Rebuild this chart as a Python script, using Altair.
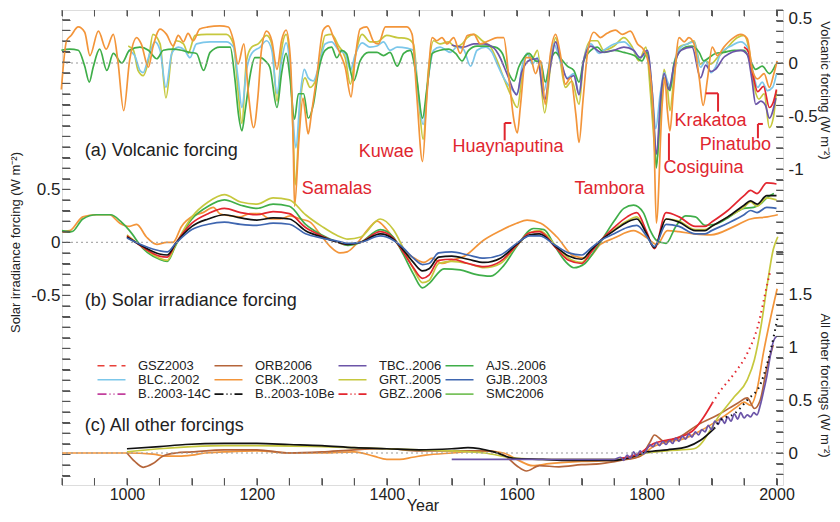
import altair as alt
import pandas as pd

FONT = "Liberation Sans"

# ---------------- legend ----------------
LEGEND_ORDER = ["GSZ2003", "ORB2006", "TBC..2006", "AJS..2006",
                "BLC..2002", "CBK..2003", "GRT..2005", "GJB..2003",
                "B..2003-14C", "B..2003-10Be", "GBZ..2006", "SMC2006"]
LEGEND_COLORS = ["#e8413a", "#b5653a", "#6c55a8", "#3fae49",
                 "#7cc7ea", "#f3953a", "#c6c83e", "#3f66b0",
                 "#c2409d", "#111111", "#e3262f", "#79c25d"]
LEGEND_DASHES = [[7, 5], [1, 0], [1, 0], [1, 0],
                 [1, 0], [1, 0], [1, 0], [1, 0],
                 [9, 3, 1, 3, 1, 3], [9, 3, 1, 3, 1, 3], [9, 3, 1, 3, 1, 3], [1, 0]]

# ---------------- (a) volcanic forcing ----------------
V_CBK_YR = [899, 907, 914, 925, 935, 943, 956, 968, 979, 986, 995, 1004, 1015, 1022, 1033, 1040, 1051, 1061, 1071, 1079,
            1087, 1094, 1102, 1112, 1125, 1143, 1156, 1164, 1171, 1180, 1187, 1195, 1202, 1207, 1215, 1223, 1231, 1238,
            1245, 1251, 1256, 1258, 1265, 1271, 1274, 1279, 1284, 1292, 1302, 1310, 1318, 1328, 1336, 1345, 1351, 1359,
            1369, 1380, 1387, 1398, 1410, 1431, 1439, 1446, 1455, 1462, 1470, 1477, 1485, 1493, 1503, 1513, 1524, 1534,
            1544, 1557, 1570, 1580, 1588, 1596, 1601, 1606, 1614, 1621, 1629, 1637, 1644, 1652, 1660, 1667, 1675, 1683,
            1691, 1696, 1702, 1709, 1719, 1729, 1739, 1752, 1763, 1775, 1786, 1796, 1804, 1811, 1815, 1824, 1828, 1832,
            1836, 1841, 1850, 1858, 1865, 1873, 1881, 1887, 1894, 1901, 1909, 1919, 1932, 1945, 1955, 1963, 1971, 1981,
            1989, 1996, 2001]
V_CBK = [-0.25, 0.21, 0.26, 0.34, 0.29, 0.07, 0.30, 0.13, 0.27, 0.02, -0.45, 0.02, 0.24, 0.18, -0.04, 0.15, 0.32, 0.27,
         0.16, 0.26, 0.20, 0.28, 0.21, 0.32, 0.34, 0.35, 0.34, 0.21, -0.01, 0.18, -0.29, -0.61, -0.29, 0.12, 0.30, 0.21,
         -0.06, 0.21, 0.31, 0.09, -0.77, -1.35, -0.70, -0.33, -0.45, -0.67, -0.48, -0.14, 0.31, 0.35, 0.24, 0.09, -0.04,
         -0.32, 0.02, 0.32, 0.34, 0.20, 0.18, 0.34, 0.34, 0.34, 0.27, -0.29, -0.93, -0.29, 0.24, 0.21, 0.24, 0.18, 0.24,
         0.09, 0.26, 0.27, 0.18, 0.21, 0.24, 0.24, -0.14, -0.55, -0.66, -0.39, 0.05, 0.05, -0.10, 0.02, -0.39, 0.09, 0.27,
         0.09, -0.20, -0.14, -0.48, -0.75, -0.36, 0.09, 0.29, 0.24, 0.28, 0.31, 0.27, 0.30, 0.18, 0.12, -0.04, -0.61,
         -1.51, -0.39, -0.14, -0.45, -0.64, -0.29, 0.24, 0.20, 0.24, 0.18, -0.14, -0.40, -0.14, 0.15, 0.07, 0.15, 0.23,
         0.27, 0.23, -0.07, -0.15, -0.10, -0.23, -0.10, 0.02]

V_AJS_YR = [899, 912, 925, 935, 942, 948, 958, 969, 979, 992, 1004, 1020, 1033, 1046, 1056, 1071, 1084, 1097, 1107, 1118,
            1128, 1143, 1159, 1166, 1172, 1177, 1182, 1189, 1197, 1205, 1213, 1220, 1231, 1238, 1245, 1251, 1258, 1264,
            1272, 1279, 1287, 1295, 1305, 1315, 1323, 1331, 1338, 1349, 1359, 1372, 1385, 1395, 1405, 1416, 1426, 1436,
            1446, 1455, 1462, 1470, 1482, 1495, 1506, 1516, 1526, 1539, 1554, 1567, 1578, 1588, 1596, 1603, 1611, 1619,
            1629, 1637, 1644, 1652, 1660, 1667, 1678, 1688, 1696, 1703, 1714, 1724, 1734, 1750, 1765, 1781, 1793, 1801,
            1806, 1811, 1815, 1821, 1826, 1831, 1836, 1842, 1850, 1860, 1870, 1881, 1888, 1896, 1906, 1919, 1935, 1950,
            1960, 1968, 1978, 1989, 1999]
V_AJS = [0.12, 0.13, 0.12, -0.03, -0.18, -0.04, 0.13, -0.07, 0.09, 0.0, 0.12, 0.15, 0.12, 0.04, 0.12, 0.13, 0.12, 0.10,
         0.09, -0.07, 0.10, 0.15, 0.15, -0.14, -0.50, -0.64, -0.45, -0.14, 0.05, 0.05, 0.02, -0.04, -0.42, -0.10, 0.09,
         -0.14, -0.53, -0.29, -0.29, -0.52, -0.39, -0.07, 0.12, 0.15, 0.05, 0.12, 0.09, -0.17, 0.02, 0.10, 0.10, 0.07,
         0.10, -0.03, 0.09, 0.12, -0.14, -0.52, -0.23, 0.09, 0.12, 0.13, 0.09, 0.02, 0.12, 0.16, 0.16, 0.15, 0.09, -0.10,
         -0.17, -0.04, 0.05, 0.09, 0.02, 0.01, -0.18, 0.02, 0.10, 0.05, -0.03, -0.07, -0.18, 0.02, 0.12, 0.15, 0.10, 0.12,
         0.10, 0.07, 0.02, 0.10, -0.14, -0.55, -0.99, -0.45, -0.14, -0.20, -0.26, -0.01, 0.10, 0.15, 0.16, 0.10, 0.02,
         0.05, 0.09, 0.10, 0.12, 0.12, 0.02, -0.06, -0.03, -0.10, -0.01]

V_BLC_YR = [1002, 1012, 1020, 1025, 1033, 1043, 1051, 1060, 1069, 1079, 1089, 1097, 1107, 1128, 1153, 1164, 1171, 1177,
            1184, 1192, 1205, 1215, 1223, 1231, 1238, 1245, 1251, 1256, 1260, 1267, 1273, 1279, 1287, 1295, 1305, 1315,
            1326, 1336, 1344, 1351, 1362, 1374, 1385, 1395, 1405, 1416, 1431, 1441, 1449, 1456, 1464, 1472, 1482, 1498,
            1508, 1518, 1529, 1539, 1552, 1562, 1570, 1580, 1590, 1601, 1608, 1616, 1624, 1632, 1642, 1650, 1657, 1667,
            1678, 1688, 1696, 1703, 1714, 1727, 1734, 1750, 1765, 1778, 1791, 1801, 1809, 1814, 1821, 1827, 1832, 1837,
            1843, 1853, 1863, 1873, 1883, 1891, 1899, 1906, 1914, 1930, 1945, 1955, 1963, 1971, 1978, 1986, 1994, 2000]
V_BLC = [0.12, 0.07, -0.07, -0.09, 0.05, 0.20, 0.12, -0.23, 0.09, 0.15, 0.12, 0.05, 0.18, 0.20, 0.20, 0.15, -0.14, -0.42,
         -0.07, 0.09, 0.15, 0.21, 0.12, -0.29, 0.02, 0.19, -0.04, -0.55, -0.80, -0.29, -0.06, -0.14, -0.17, -0.04, 0.18,
         0.20, 0.12, 0.09, -0.07, 0.07, 0.19, 0.15, 0.16, 0.20, 0.12, 0.15, 0.14, 0.12, -0.33, -0.58, -0.14, 0.12, 0.15,
         0.10, 0.15, 0.13, -0.03, 0.12, 0.15, 0.10, -0.01, -0.14, -0.23, -0.29, -0.04, 0.09, -0.01, 0.05, -0.26, -0.01,
         0.18, 0.02, -0.14, -0.10, -0.29, 0.02, 0.18, 0.09, 0.12, 0.18, 0.20, 0.13, 0.05, 0.12, -0.29, -0.62, -0.29,
         -0.09, -0.17, -0.23, 0.02, 0.15, 0.18, 0.20, -0.04, 0.02, -0.09, -0.04, 0.09, 0.16, 0.20, 0.15, -0.06, -0.23,
         -0.18, -0.26, -0.23, -0.10]

V_GRT_YR = [1002, 1010, 1017, 1025, 1033, 1040, 1051, 1060, 1069, 1076, 1087, 1094, 1105, 1123, 1153, 1164, 1171, 1177,
            1184, 1192, 1202, 1215, 1223, 1231, 1238, 1245, 1251, 1256, 1259, 1267, 1274, 1282, 1290, 1297, 1305, 1315,
            1326, 1336, 1344, 1351, 1362, 1374, 1385, 1400, 1416, 1431, 1441, 1449, 1456, 1464, 1472, 1482, 1495, 1506,
            1516, 1524, 1534, 1547, 1560, 1570, 1580, 1590, 1601, 1608, 1616, 1624, 1632, 1643, 1652, 1660, 1667, 1675,
            1685, 1696, 1703, 1714, 1724, 1734, 1750, 1765, 1778, 1788, 1799, 1806, 1811, 1815, 1822, 1827, 1832, 1836,
            1842, 1850, 1863, 1873, 1883, 1891, 1899, 1909, 1922, 1940, 1950, 1958, 1966, 1973, 1981, 1989, 1995, 2000]
V_GRT = [0.16, 0.12, -0.07, -0.12, 0.02, 0.27, 0.18, -0.33, 0.09, 0.21, 0.18, 0.09, 0.26, 0.27, 0.27, 0.18, -0.26, -0.57,
         0.02, 0.15, 0.18, 0.26, 0.18, -0.36, 0.12, 0.27, -0.01, -0.70, -1.15, -0.36, -0.14, -0.23, -0.17, 0.02, 0.26,
         0.27, 0.16, 0.05, -0.20, 0.05, 0.27, 0.20, 0.20, 0.26, 0.24, 0.23, 0.18, -0.33, -0.72, -0.07, 0.21, 0.18, 0.20,
         0.15, 0.18, 0.24, 0.27, 0.21, 0.15, 0.02, -0.14, -0.29, -0.42, -0.14, 0.09, 0.04, 0.12, -0.47, -0.04, 0.24, 0.02,
         -0.23, -0.17, -0.39, 0.02, 0.21, 0.21, 0.12, 0.16, 0.24, 0.15, 0.02, 0.15, -0.29, -0.70, -0.96, -0.39, -0.06,
         -0.23, -0.45, -0.14, 0.15, 0.18, 0.21, -0.01, 0.02, -0.01, 0.05, 0.13, 0.24, 0.26, 0.12, -0.23, -0.34, -0.29,
         -0.61, -0.52, -0.26]

V_TBC_YR = [1500, 1518, 1534, 1549, 1565, 1572, 1585, 1600, 1608, 1621, 1632, 1643, 1652, 1660, 1667, 1678, 1688, 1696,
            1703, 1714, 1730, 1750, 1765, 1780, 1790, 1801, 1809, 1815, 1822, 1827, 1834, 1842, 1853, 1870, 1883, 1891,
            1899, 1906, 1920, 1945, 1955, 1962, 1968, 1976, 1983, 1989, 1999]
V_TBC = [0.17, 0.15, 0.18, 0.18, 0.14, 0.08, -0.10, -0.30, -0.08, 0.03, 0.04, -0.35, -0.03, 0.20, 0.05, -0.15, -0.12,
         -0.30, 0.02, 0.16, 0.10, 0.12, 0.15, 0.12, 0.05, 0.12, -0.30, -0.86, -0.30, -0.10, -0.25, -0.03, 0.12, 0.15,
         -0.14, -0.02, -0.08, -0.06, 0.06, 0.12, 0.08, -0.15, -0.39, -0.36, -0.40, -0.52, -0.33]

V_GBZ_YR = [1950, 1957, 1964, 1971, 1980, 1989, 1995, 2000]
V_GBZ = [0.15, 0.10, -0.12, -0.27, -0.22, -0.42, -0.37, -0.25]

# ---------------- (b) solar irradiance forcing ----------------
S_YR = [1000, 1025, 1050, 1062, 1075, 1100, 1125, 1150, 1175, 1200, 1225, 1250, 1275, 1300, 1325, 1340, 1360, 1390,
        1410, 1425, 1441, 1455, 1465, 1480, 1500, 1525, 1550, 1575, 1600, 1620, 1635, 1660, 1680, 1700, 1715, 1730,
        1750, 1770, 1785, 1800, 1812, 1830, 1850, 1875, 1890, 1900, 1925, 1950, 1960, 1970, 1985, 2000]
S_B10BE = [0.05, -0.04, -0.11, -0.12, -0.01, 0.15, 0.22, 0.26, 0.23, 0.21, 0.23, 0.22, 0.11, 0.05, 0.0, -0.02, 0.0,
           0.08, 0.03, -0.07, -0.19, -0.27, -0.25, -0.14, -0.13, -0.16, -0.19, -0.15, -0.02, 0.07, 0.08, -0.04, -0.13,
           -0.16, -0.07, 0.02, 0.11, 0.19, 0.22, 0.08, -0.05, 0.22, 0.19, 0.11, 0.11, 0.15, 0.24, 0.35, 0.39, 0.36, 0.44,
           0.44]
S_GJB = [0.04, -0.03, -0.08, -0.09, -0.01, 0.12, 0.17, 0.19, 0.17, 0.16, 0.18, 0.17, 0.08, 0.04, 0.01, -0.01, 0.0, 0.06,
         0.02, -0.05, -0.15, -0.21, -0.20, -0.10, -0.09, -0.12, -0.15, -0.12, -0.01, 0.06, 0.06, -0.03, -0.10, -0.12,
         -0.05, 0.02, 0.08, 0.14, 0.16, 0.06, -0.04, 0.17, 0.15, 0.08, 0.08, 0.11, 0.18, 0.26, 0.30, 0.28, 0.33, 0.32]
S_GBZ = [0.06, -0.05, -0.13, -0.14, -0.01, 0.18, 0.27, 0.32, 0.28, 0.26, 0.29, 0.27, 0.14, 0.06, 0.0, -0.02, 0.0, 0.10,
         0.04, -0.09, -0.24, -0.34, -0.31, -0.17, -0.16, -0.20, -0.23, -0.18, -0.03, 0.09, 0.10, -0.05, -0.17, -0.20,
         -0.09, 0.02, 0.14, 0.24, 0.28, 0.10, -0.06, 0.28, 0.24, 0.15, 0.15, 0.19, 0.30, 0.44, 0.49, 0.46, 0.56, 0.55]
S_GRT = [0.07, -0.05, -0.15, -0.17, -0.02, 0.24, 0.38, 0.45, 0.38, 0.36, 0.42, 0.40, 0.26, 0.15, 0.06, 0.03, 0.05, 0.22,
         0.12, -0.05, -0.25, -0.38, -0.36, -0.20, -0.18, -0.20, -0.24, -0.20, -0.03, 0.09, 0.11, -0.03, -0.15, -0.19,
         -0.08, 0.02, 0.12, 0.20, 0.24, 0.08, -0.05, 0.22, 0.20, 0.12, 0.12, 0.15, 0.24, 0.33, 0.38, 0.34, 0.42, 0.40]

S_AJS_YR = [900, 915, 932, 953, 975, 990, 1004, 1025, 1050, 1062, 1075, 1100, 1125, 1150, 1175, 1200, 1225, 1250, 1275,
            1300, 1325, 1340, 1360, 1390, 1410, 1425, 1441, 1455, 1465, 1488, 1513, 1535, 1560, 1580, 1600, 1626, 1642,
            1660, 1675, 1688, 1705, 1720, 1735, 1750, 1765, 1780, 1795, 1805, 1815, 1830, 1845, 1860, 1875, 1890, 1905,
            1925, 1950, 1965, 1975, 1985, 1996]
S_AJS = [0.11, 0.10, 0.22, 0.26, 0.26, 0.20, 0.11, -0.06, -0.16, -0.18, -0.03, 0.22, 0.34, 0.40, 0.35, 0.32, 0.36, 0.34,
         0.17, 0.07, 0.0, -0.03, 0.0, 0.12, 0.05, -0.11, -0.30, -0.43, -0.39, -0.25, -0.26, -0.30, -0.32, -0.22, -0.04,
         0.13, 0.12, -0.05, -0.18, -0.24, -0.20, -0.08, 0.06, 0.20, 0.32, 0.35, 0.28, 0.12, 0.02, -0.01, 0.15, 0.25, 0.24,
         0.16, 0.17, 0.23, 0.32, 0.33, 0.36, 0.42, 0.46]

S_CBK_YR = [900, 912, 932, 953, 973, 989, 1004, 1015, 1030, 1046, 1061, 1071, 1084, 1102, 1117, 1133, 1143, 1159, 1174,
            1189, 1205, 1220, 1236, 1251, 1267, 1282, 1297, 1313, 1328, 1339, 1354, 1375, 1385, 1400, 1421, 1440, 1457,
            1470, 1485, 1500, 1520, 1549, 1575, 1600, 1616, 1637, 1662, 1688, 1709, 1729, 1750, 1780, 1801, 1816, 1832,
            1850, 1873, 1899, 1935, 1960, 1986, 2002]
S_CBK = [0.10, 0.11, 0.24, 0.26, 0.26, 0.18, 0.15, 0.17, 0.05, -0.02, 0.0, 0.0, 0.15, 0.25, 0.28, 0.33, 0.27, 0.25, 0.24,
         0.27, 0.27, 0.22, 0.22, 0.25, 0.22, 0.19, 0.08, -0.04, -0.10, -0.09, -0.01, 0.15, 0.20, 0.12, -0.05, -0.14,
         -0.19, -0.15, -0.20, -0.17, -0.13, 0.02, 0.11, 0.18, 0.21, 0.18, 0.05, -0.13, -0.15, -0.02, 0.04, 0.11, 0.04,
         -0.02, 0.11, 0.10, 0.08, 0.07, 0.15, 0.22, 0.24, 0.26]

# ---------------- (c) all other forcings ----------------
O_CBK_YR = [900, 1000, 1040, 1060, 1080, 1100, 1120, 1150, 1200, 1250, 1300, 1350, 1380, 1400, 1420, 1440, 1460, 1500,
            1550, 1580, 1600, 1625, 1650, 1700, 1750, 1790, 1810, 1830, 1860, 1880, 1900, 1920, 1940, 1950, 1960, 1970,
            1980, 1990, 2001]
O_CBK = [0.0, 0.0, -0.01, -0.03, -0.03, -0.02, 0.0, 0.01, 0.02, 0.0, 0.0, 0.01, -0.03, -0.06, -0.06, -0.04, -0.02, 0.0,
         0.02, 0.0, -0.06, -0.12, -0.10, -0.08, -0.07, -0.03, 0.06, 0.10, 0.14, 0.20, 0.27, 0.35, 0.44, 0.48, 0.45, 0.60,
         0.95, 1.25, 1.55]

O_ORB_YR = [1000, 1012, 1025, 1040, 1055, 1075, 1100, 1150, 1200, 1250, 1300, 1350, 1400, 1450, 1500, 1550, 1580, 1600,
            1615, 1635, 1665, 1700, 1730, 1760, 1790, 1805, 1812, 1827, 1850, 1880, 1910, 1940, 1955, 1966, 1975, 1985,
            1995]
O_ORB = [0.0, -0.08, -0.135, -0.10, -0.03, 0.0, 0.01, 0.03, 0.03, 0.0, 0.01, 0.03, 0.04, 0.02, 0.02, 0.02, -0.02, -0.12,
         -0.17, -0.12, -0.13, -0.11, -0.10, -0.07, -0.03, 0.10, 0.17, 0.11, 0.15, 0.27, 0.36, 0.47, 0.52, 0.42, 0.50,
         0.80, 1.02]

O_GRT_YR = [1000, 1050, 1100, 1150, 1200, 1300, 1400, 1450, 1500, 1550, 1600, 1650, 1700, 1750, 1780, 1800, 1830, 1873,
            1914, 1935, 1955, 1966, 1976, 1986, 1995, 2002]
O_GRT = [0.01, 0.04, 0.06, 0.07, 0.07, 0.06, 0.04, 0.03, 0.02, 0.0, -0.05, -0.06, -0.06, -0.06, -0.03, 0.0, 0.02, 0.04,
         0.37, 0.53, 0.69, 0.88, 1.19, 1.60, 1.92, 2.04]

O_B10BE_YR = [1000, 1050, 1090, 1150, 1200, 1250, 1300, 1350, 1400, 1450, 1500, 1525, 1565, 1595, 1640, 1680, 1750,
              1781, 1801, 1832, 1863, 1883, 1904]
O_B10BE = [0.04, 0.06, 0.08, 0.09, 0.09, 0.08, 0.07, 0.05, 0.04, 0.03, 0.04, 0.05, 0.01, -0.05, -0.06, -0.07, -0.07,
           -0.03, 0.01, 0.03, 0.06, 0.12, 0.23]
O_B10BE_DOT_YR = [1904, 1914, 1935, 1955, 1976, 1991, 2002]
O_B10BE_DOT = [0.23, 0.31, 0.37, 0.50, 0.66, 0.97, 1.29]

O_GBZ_YR = [1760, 1790, 1811, 1830, 1852, 1873, 1888, 1901]
O_GBZ = [-0.05, 0.0, 0.09, 0.12, 0.15, 0.22, 0.34, 0.47]
O_GBZ_DOT_YR = [1901, 1914, 1935, 1955, 1971, 1986, 1991]
O_GBZ_DOT = [0.47, 0.59, 0.75, 0.94, 1.19, 1.60, 1.73]

O_TBC_YR = [1500, 1750, 1760, 1765, 1770, 1775, 1780, 1785, 1790, 1795, 1800, 1805, 1810, 1815, 1820, 1825, 1830, 1835,
            1840, 1845, 1850, 1855, 1860, 1865, 1870, 1875, 1880, 1885, 1890, 1895, 1900, 1905, 1910, 1915, 1920, 1925,
            1930, 1935, 1940, 1945, 1950, 1955, 1960, 1965, 1970, 1975, 1980, 1985, 1990, 1995, 2000]
O_TBC = [-0.06, -0.06, -0.04, -0.07, -0.02, -0.05, 0.01, -0.03, 0.02, -0.01, 0.03, 0.08, 0.06, 0.10, 0.07, 0.11, 0.08,
         0.12, 0.09, 0.14, 0.11, 0.16, 0.13, 0.18, 0.15, 0.20, 0.17, 0.22, 0.20, 0.26, 0.22, 0.30, 0.27, 0.33, 0.28, 0.34,
         0.30, 0.37, 0.32, 0.38, 0.33, 0.36, 0.34, 0.38, 0.36, 0.45, 0.58, 0.72, 0.90, 1.05, 1.10]

# ---------------- annotations ----------------
EVENT_NAMES = ["Samalas", "Kuwae", "Huaynaputina", "Tambora", "Cosiguina", "Krakatoa", "Pinatubo"]
EVENT_YEAR = [1269, 1357, 1501, 1689, 1826, 1843, 1882]
EVENT_V = [-1.19, -0.84, -0.79, -1.19, -0.99, -0.55, -0.77]
BRACKET_X = [1581.5, 1581.5, 1891, 1910, 1971.4, 1971.4, 1834.4]
BRACKET_X2 = [1581.5, 1591.8, 1910, 1910, 1979, 1971.4, 1834.4]
BRACKET_Y = [-0.566, -0.566, -0.286, -0.286, -0.575, -0.575, -0.663]
BRACKET_Y2 = [-0.73, -0.566, -0.286, -0.459, -0.575, -0.71, -0.915]
PANEL_TEXT = ["(a) Volcanic forcing", "(b) Solar irradiance forcing", "(c) All other forcings"]
PANEL_YEAR = [935, 935, 935]
PANEL_V = [-0.83, -0.55, 0.255]

# ---------------- axis tick values ----------------
X_TICKS = list(range(900, 2011, 50))
LEFT_TICKS = [round(-2.2 + 0.1 * i, 1) for i in range(44)]
VOLC_TICKS = [round(0.5 - 0.1 * i, 1) for i in range(24)]
OTHER_TICKS = [round(-0.2 + 0.1 * i, 1) for i in range(22)]


def frame(series_list):
    rows = []
    for name, yrs, vals in series_list:
        for y, v in zip(yrs, vals):
            rows.append({"series": name, "year": y, "v": v})
    return pd.DataFrame(rows)


volc_df = frame([("GRT..2005", V_GRT_YR, V_GRT), ("BLC..2002", V_BLC_YR, V_BLC), ("AJS..2006", V_AJS_YR, V_AJS),
                 ("TBC..2006", V_TBC_YR, V_TBC), ("GBZ..2006", V_GBZ_YR, V_GBZ), ("CBK..2003", V_CBK_YR, V_CBK)])
solar_df = frame([("CBK..2003", S_CBK_YR, S_CBK), ("AJS..2006", S_AJS_YR, S_AJS), ("GRT..2005", S_YR, S_GRT),
                  ("GBZ..2006", S_YR, S_GBZ), ("B..2003-10Be", S_YR, S_B10BE), ("GJB..2003", S_YR, S_GJB)])
other_df = frame([("CBK..2003", O_CBK_YR, O_CBK), ("ORB2006", O_ORB_YR, O_ORB), ("GRT..2005", O_GRT_YR, O_GRT),
                  ("B..2003-10Be", O_B10BE_YR, O_B10BE), ("GBZ..2006", O_GBZ_YR, O_GBZ), ("TBC..2006", O_TBC_YR, O_TBC)])
dot_df = frame([("B..2003-10Be", O_B10BE_DOT_YR, O_B10BE_DOT), ("GBZ..2006", O_GBZ_DOT_YR, O_GBZ_DOT)])
legend_df = pd.DataFrame({"series": LEGEND_ORDER, "year": [None] * 12, "v": [None] * 12})
zero_df = pd.DataFrame({"v": [0.0]})
event_df = pd.DataFrame({"name": EVENT_NAMES, "year": EVENT_YEAR, "v": EVENT_V})
bracket_df = pd.DataFrame({"year": BRACKET_X, "x2": BRACKET_X2, "v": BRACKET_Y, "y2": BRACKET_Y2})
panel_df = pd.DataFrame({"text": PANEL_TEXT, "year": PANEL_YEAR, "v": PANEL_V, "panel": ["a", "b", "c"]})
xtick_df = pd.DataFrame({"year": X_TICKS})
ltick_df = pd.DataFrame({"v": LEFT_TICKS})
vtick_df = pd.DataFrame({"v": VOLC_TICKS})
otick_df = pd.DataFrame({"v": OTHER_TICKS})

# ---------------- layout ----------------
W, H = 721, 475
K = 106.0  # pixels per W m-2 (same for all three panels)
xs = alt.Scale(domain=[900, 2010], nice=False, zero=False)
vol_scale = alt.Scale(domain=[0.5 - H / K, 0.5], nice=False, zero=False)
sol_scale = alt.Scale(domain=[232.3 / K - H / K, 232.3 / K], nice=False, zero=False)
oth_scale = alt.Scale(domain=[443.0 / K - H / K, 443.0 / K], nice=False, zero=False)
cs = alt.Scale(domain=LEGEND_ORDER, range=LEGEND_COLORS)
ds = alt.Scale(domain=LEGEND_ORDER, range=LEGEND_DASHES)

LEG = alt.Legend(title=None, orient="none", legendX=43, legendY=349, columns=4, direction="horizontal",
                 symbolType="M-2.8,0H2.8", symbolSize=100, symbolStrokeWidth=1.6, symbolFillColor="transparent",
                 labelFontSize=13, labelFont=FONT, labelColor="#222", labelOffset=20, columnPadding=0,
                 rowPadding=0.3, padding=0, labelLimit=200)

TICK_COLOR = "#555"
AX = dict(domain=False, grid=False, tickColor=TICK_COLOR, tickWidth=1, labelColor="#222", labelFont=FONT,
          titleFont=FONT, titleColor="#222", titleFontWeight="normal", labelOverlap=False)

x_bottom = alt.Axis(orient="bottom", values=X_TICKS, format="d", ticks=True,
                    labelExpr="datum.value % 200 == 0 ? datum.label : ''", tickSize=7, offset=-7,
                    labelPadding=1, labelFontSize=16, labelFlush=False, title="Year", titleFontSize=16,
                    titleY=32.5, titleBaseline="alphabetic", **AX)
x_top = alt.Axis(orient="top", values=X_TICKS, labels=False, ticks=True, tickSize=6, offset=-6, title=None, **AX)
x_none = alt.Axis(orient="bottom", values=X_TICKS, labels=False, ticks=False, title=None, **AX)

y_left = alt.Axis(orient="left", values=LEFT_TICKS, ticks=True, tickSize=8, offset=-8, labelPadding=2,
                  labelFontSize=17,
                  labelExpr="abs(datum.value-0.5)<0.01 ? '0.5' : abs(datum.value)<0.01 ? '0' : "
                            "abs(datum.value+0.5)<0.01 ? '-0.5' : ''",
                  title="Solar irradiance forcing  (W m⁻²)", titleFontSize=13, titleAngle=270,
                  titleX=-55, titleY=232, titleAlign="center", titleBaseline="middle", **AX)
y_volc = alt.Axis(orient="right", values=VOLC_TICKS, ticks=True, tickSize=7, offset=-7, labelPadding=5,
                  labelFontSize=17, labelFlush=True,
                  labelExpr="abs(datum.value-0.5)<0.01 ? '0.5' : abs(datum.value)<0.01 ? '0' : "
                            "abs(datum.value+0.5)<0.01 ? '-0.5' : abs(datum.value+1)<0.01 ? '-1' : ''",
                  title="Volcanic forcing  (W m⁻²)", titleFontSize=13, titleAngle=90,
                  titleX=48, titleY=80, titleAlign="center", titleBaseline="middle", **AX)
y_other = alt.Axis(orient="right", values=OTHER_TICKS, ticks=True, tickSize=7, offset=-7, labelPadding=5,
                   labelFontSize=17,
                   labelExpr="abs(datum.value)<0.01 ? '0' : abs(datum.value-0.5)<0.01 ? '0.5' : "
                             "abs(datum.value-1)<0.01 ? '1' : abs(datum.value-1.5)<0.01 ? '1.5' : ''",
                   title="All other forcings  (W m⁻²)", titleFontSize=13, titleAngle=90,
                   titleX=48, titleY=375, titleAlign="center", titleBaseline="middle", **AX)

LW = 1.7


def enc_xy(xaxis, yscale, yaxis):
    return dict(x=alt.X("year:Q", scale=xs, axis=xaxis), y=alt.Y("v:Q", scale=yscale, axis=yaxis))


def zero_rule(yscale, yaxis):
    return alt.Chart(zero_df).mark_rule(color="#999", strokeDash=[2, 3], strokeWidth=1).encode(
        y=alt.Y("v:Q", scale=yscale, axis=yaxis))


def y_ticks(df, yscale, yaxis, x0, x1):
    # inward tick marks along a vertical frame edge, at the axis' tick values
    return alt.Chart(df).mark_rule(color=TICK_COLOR, strokeWidth=1).encode(
        y=alt.Y("v:Q", scale=yscale, axis=yaxis), x=alt.value(x0), x2=alt.value(x1))


def x_ticks(xaxis, y0, y1):
    # inward tick marks along a horizontal frame edge, at the axis' tick values
    return alt.Chart(xtick_df).mark_rule(color=TICK_COLOR, strokeWidth=1).encode(
        x=alt.X("year:Q", scale=xs, axis=xaxis), y=alt.value(y0), y2=alt.value(y1))


def panel_label(p, xaxis, yscale, yaxis):
    return alt.Chart(panel_df[panel_df.panel == p]).mark_text(
        align="left", baseline="middle", fontSize=18, font=FONT, color="#222").encode(
        text="text:N", **enc_xy(xaxis, yscale, yaxis))


def series_color():
    return alt.Color("series:N", scale=cs, legend=LEG)


# (a) volcanic
volc_lines = alt.Chart(volc_df).mark_line(strokeWidth=LW, interpolate="monotone").encode(
    color=series_color(), detail="series:N", **enc_xy(x_bottom, vol_scale, y_volc))
events = alt.Chart(event_df).mark_text(align="left", baseline="middle", fontSize=18, font=FONT,
                                       color="#e0262f").encode(
    text="name:N", **enc_xy(x_bottom, vol_scale, y_volc))
brackets = alt.Chart(bracket_df).mark_rule(color="#e0262f", strokeWidth=2).encode(
    x2="x2:Q", y2="y2:Q", **enc_xy(x_bottom, vol_scale, y_volc))
volc_layer = alt.layer(volc_lines, zero_rule(vol_scale, y_volc), events, brackets,
                       panel_label("a", x_bottom, vol_scale, y_volc),
                       y_ticks(vtick_df, vol_scale, y_volc, W - 7, W),
                       x_ticks(x_bottom, H - 7, H))

# (b) solar
solar_lines = alt.Chart(solar_df).mark_line(strokeWidth=LW, interpolate="monotone").encode(
    color=series_color(), detail="series:N", **enc_xy(x_top, sol_scale, y_left))
solar_layer = alt.layer(solar_lines, zero_rule(sol_scale, y_left), panel_label("b", x_top, sol_scale, y_left),
                        y_ticks(ltick_df, sol_scale, y_left, 0, 8),
                        x_ticks(x_top, 0, 6))

# (c) all other
other_lines = alt.Chart(other_df).mark_line(strokeWidth=LW, interpolate="monotone").encode(
    color=series_color(), detail="series:N", **enc_xy(x_none, oth_scale, y_other))
dotted = alt.Chart(dot_df).mark_line(strokeWidth=2, strokeDash=[1.5, 4], interpolate="monotone").encode(
    color=series_color(), detail="series:N", **enc_xy(x_none, oth_scale, y_other))
legend_layer = alt.Chart(legend_df).mark_line(strokeWidth=1.6).encode(
    color=series_color(),
    strokeDash=alt.StrokeDash("series:N", scale=ds, legend=LEG),
    **enc_xy(x_none, oth_scale, y_other))
other_layer = alt.layer(other_lines, dotted, zero_rule(oth_scale, y_other),
                        panel_label("c", x_none, oth_scale, y_other), legend_layer,
                        y_ticks(otick_df, oth_scale, y_other, W - 7, W))

chart = alt.layer(volc_layer, solar_layer, other_layer).resolve_scale(
    y="independent").resolve_axis(y="independent", x="independent").properties(
    width=W, height=H, padding={"left": 54, "top": 2, "right": 49, "bottom": 29},
    autosize=alt.AutoSizeParams(type="none")).configure_view(stroke="#666", strokeWidth=1).configure(
    background="white")

chart.save("out.html", embed_options={"renderer": "svg", "actions": False})
